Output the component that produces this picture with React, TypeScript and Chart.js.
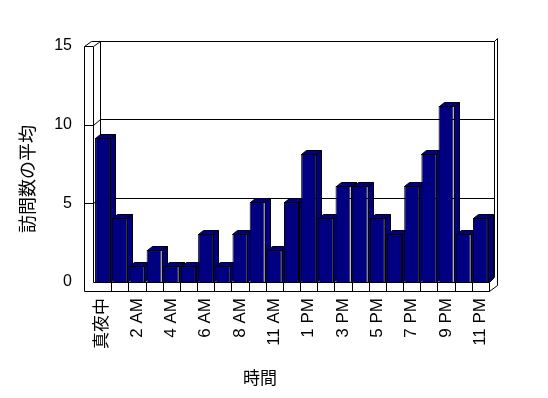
import React, { useEffect, useRef } from 'react';
import { Chart, registerables } from 'chart.js';

Chart.register(...registerables);

const hourLabels = ['真夜中', '1 AM', '2 AM', '3 AM', '4 AM', '5 AM', '6 AM', '7 AM', '8 AM', '9 AM', '11 AM', '正午', '1 PM', '2 PM', '3 PM', '4 PM', '5 PM', '6 PM', '7 PM', '8 PM', '9 PM', '10 PM', '11 PM'];
const avgVisits = [9, 4, 1, 2, 1, 1, 3, 1, 3, 5, 2, 5, 8, 4, 6, 6, 4, 3, 6, 8, 11, 3, 4];
const yTickValues = [0, 5, 10, 15];
const yTitle = '訪問数の平均';
const xTitle = '時間';

const NAVY = '#000080';
const LATIN = '"Liberation Sans", "Noto Sans CJK JP", sans-serif';
const CJK = '"Noto Sans CJK JP", "Liberation Sans", sans-serif';

const c = (v: number) => Math.round(v) + 0.5;

const excel3d = {
  id: 'excel3d',
  beforeDatasetsDraw(chart: any) {
    const { ctx, chartArea: a, scales } = chart;
    const y = scales.y;
    const yf = scales.yFront;
    const x = scales.x;
    const base = y.getPixelForValue(0);
    const fy = (v: number) => yf.getPixelForValue(v);
    const by = (v: number) => base - 5 - (base - y.getPixelForValue(v)) * 0.985;
    const L0 = a.left - 10, L1 = a.left - 1, L2 = a.left + 6;
    const R1 = a.right + 5, R2 = a.right + 8;
    const F1 = base + 9;
    ctx.save();
    ctx.strokeStyle = '#000';
    ctx.lineWidth = 1;
    const line = (pts: number[][]) => {
      ctx.beginPath();
      pts.forEach(([px, py], i) => (i ? ctx.lineTo(c(px), c(py)) : ctx.moveTo(c(px), c(py))));
      ctx.stroke();
    };
    yTickValues.forEach((v) => {
      if (v === 0) return;
      line([[L0, fy(v)], [L1, fy(v)], [L2, by(v)], [R1, by(v)]]);
    });
    const top = yTickValues[yTickValues.length - 1];
    line([[L0, fy(top)], [L0, F1]]);
    line([[L1, fy(top)], [L1, base]]);
    line([[L2, by(top)], [L2, by(0)]]);
    line([[L0, fy(top)], [L0 + 7, by(top)], [R1, by(top)]]);
    line([[R1, by(top)], [R1, by(0)]]);
    line([[R1, by(top)], [R2, by(top) - 3], [R2, F1 - 6]]);
    line([[L1, base], [a.right, base]]);
    line([[L0, F1], [a.right, F1]]);
    line([[a.right, base], [a.right, F1]]);
    line([[a.right, F1], [R2, F1 - 6]]);
    line([[a.right, base], [R1, base - 5]]);
    const step = x.getPixelForValue(1) - x.getPixelForValue(0);
    for (let k = 1; k < hourLabels.length; k++) {
      const xk = x.getPixelForValue(k) - step / 2;
      line([[xk, base], [xk, F1]]);
    }
    const meta = chart.getDatasetMeta(0);
    const dx = 5, dy = 4;
    meta.data.forEach((el: any) => {
      const l = el.x - el.width / 2;
      const r = el.x + el.width / 2;
      const t = el.y;
      const b = el.base;
      ctx.fillStyle = NAVY;
      ctx.beginPath();
      ctx.moveTo(c(r), c(t));
      ctx.lineTo(c(r + dx), c(t - dy));
      ctx.lineTo(c(r + dx), c(b - dy));
      ctx.lineTo(c(r), c(b));
      ctx.closePath();
      ctx.fill();
      ctx.stroke();
      ctx.beginPath();
      ctx.moveTo(c(l), c(t));
      ctx.lineTo(c(l + dx), c(t - dy));
      ctx.lineTo(c(r + dx), c(t - dy));
      ctx.lineTo(c(r), c(t));
      ctx.closePath();
      ctx.fill();
      ctx.stroke();
    });
    ctx.restore();
  },
  afterDraw(chart: any) {
    const { ctx } = chart;
    ctx.save();
    ctx.fillStyle = '#000';
    ctx.textAlign = 'center';
    ctx.textBaseline = 'middle';
    ctx.font = '18px ' + CJK;
    ctx.translate(27, 179);
    ctx.rotate(-Math.PI / 2);
    ctx.fillText(yTitle, 0, 0);
    ctx.restore();
    ctx.save();
    ctx.fillStyle = '#000';
    ctx.textAlign = 'center';
    ctx.textBaseline = 'middle';
    ctx.font = '17px ' + CJK;
    ctx.fillText(xTitle, 260, 378);
    ctx.restore();
  },
};

const whiteBg = {
  id: 'whiteBg',
  beforeDraw(chart: any) {
    const { ctx, width, height } = chart;
    ctx.save();
    ctx.fillStyle = '#fff';
    ctx.fillRect(0, 0, width, height);
    ctx.restore();
  },
};

export default function App() {
  const ref = useRef<HTMLCanvasElement | null>(null);
  useEffect(() => {
    if (!ref.current) return;
    const chart = new Chart(ref.current, {
      type: 'bar',
      data: {
        labels: hourLabels,
        datasets: [
          {
            data: avgVisits,
            yAxisID: 'y',
            backgroundColor: NAVY,
            borderColor: '#000',
            borderWidth: 1,
            barPercentage: 0.874,
            categoryPercentage: 1,
          },
        ],
      },
      options: {
        responsive: false,
        animation: false,
        devicePixelRatio: 1,
        layout: { padding: { top: 42, right: 59, left: 0, bottom: 0 } },
        plugins: { legend: { display: false }, tooltip: { enabled: false }, title: { display: false } },
        scales: {
          x: {
            grid: { display: false, drawTicks: false },
            border: { display: false },
            ticks: {
              autoSkip: false,
              maxRotation: 90,
              minRotation: 90,
              padding: 16,
              color: '#000',
              font: { family: LATIN, size: 17 },
              callback: (_v: any, i: number) => (i % 2 === 0 ? hourLabels[i] : ''),
            },
            afterFit: (s: any) => {
              s.height = 116;
            },
          },
          y: {
            display: false,
            min: 0,
            max: 15,
          },
          yFront: {
            position: 'left',
            min: 0,
            max: 15.25,
            grid: { display: false, drawTicks: false },
            border: { display: false },
            afterBuildTicks: (s: any) => {
              s.ticks = yTickValues.map((v) => ({ value: v }));
            },
            ticks: {
              padding: 22,
              color: '#000',
              font: { family: LATIN, size: 16 },
            },
            afterFit: (s: any) => {
              s.width = 94;
            },
          },
        },
      },
      plugins: [whiteBg, excel3d],
    });
    return () => chart.destroy();
  }, []);
  return (
    <div style={{ position: 'absolute', left: 0, top: 0, width: 548, height: 398, background: '#fff' }}>
      <canvas ref={ref} width={548} height={398} style={{ display: 'block' }} />
    </div>
  );
}
